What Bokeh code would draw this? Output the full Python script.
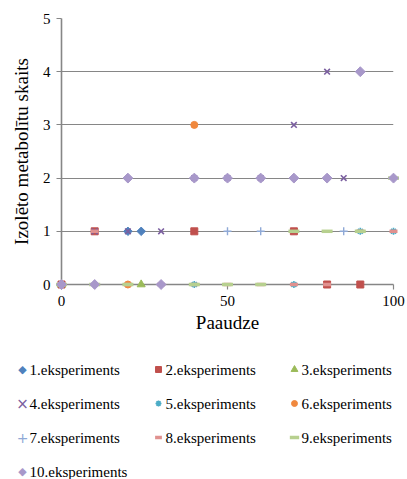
from bokeh.plotting import figure
from bokeh.models import Range1d, FixedTicker
from bokeh.core.properties import value
from bokeh.layouts import column
from bokeh.embed import file_html
from bokeh.resources import INLINE

# Data (generation, number of isolated metabolites)
names = ["1.eksperiments", "2.eksperiments", "3.eksperiments", "4.eksperiments",
         "5.eksperiments", "6.eksperiments", "7.eksperiments", "8.eksperiments",
         "9.eksperiments", "10.eksperiments"]

e1_x = [0, 20, 24]
e1_y = [0, 1, 1]
e2_x = [0, 10, 40, 70, 80, 90]
e2_y = [0, 1, 1, 1, 0, 0]
e3_x = [0, 24]
e3_y = [0, 0]
e4_x = [0, 10, 20, 30, 40, 50, 60, 70, 80, 85]
e4_y = [0, 1, 1, 1, 2, 2, 2, 3, 4, 2]
e5_x = [0, 40, 70, 90, 100]
e5_y = [0, 0, 0, 1, 1]
e6_x = [0, 20, 40]
e6_y = [0, 0, 3]
e7_x = [0, 50, 60, 85]
e7_y = [0, 1, 1, 1]
e8_x = [0, 10, 20, 30, 40, 50, 60, 70, 80, 90, 100]
e8_y = [0, 1, 0, 0, 0, 0, 0, 0, 0, 1, 1]
e9_x = [0, 10, 20, 40, 50, 60, 70, 80, 90, 100]
e9_y = [0, 0, 0, 0, 0, 0, 1, 1, 1, 2]
e10_x = [0, 10, 20, 30, 40, 50, 60, 70, 80, 90, 100]
e10_y = [0, 0, 2, 0, 2, 2, 2, 2, 2, 4, 2]

x_ticks = [0, 50, 100]
y_ticks = [0, 1, 2, 3, 4, 5]

FONT = "Liberation Serif"
GRID = "#868686"

p = figure(width=407, height=355, output_backend="svg", toolbar_location=None,
           x_range=Range1d(0, 100), y_range=Range1d(0, 5),
           min_border_left=61, min_border_right=14, min_border_top=18,
           min_border_bottom=71)
p.background_fill_color = "white"
p.border_fill_color = "white"
p.outline_line_color = None

p.xgrid.grid_line_color = None
p.ygrid.grid_line_color = GRID
p.ygrid.grid_line_width = 1.2

for ax in (p.xaxis[0], p.yaxis[0]):
    ax.axis_line_color = GRID
    ax.axis_line_width = 1.6
    ax.major_tick_line_color = GRID
    ax.major_tick_line_width = 1.2
    ax.major_tick_out = 5
    ax.major_tick_in = 0
    ax.minor_tick_line_color = None
    ax.major_label_text_font = FONT
    ax.major_label_text_font_size = "15px"
    ax.major_label_text_color = "black"
    ax.axis_label_text_font = FONT
    ax.axis_label_text_font_style = "normal"
    ax.axis_label_text_color = "black"
    ax.axis_label_text_font_size = "19px"

p.xaxis[0].ticker = FixedTicker(ticks=x_ticks)
p.yaxis[0].ticker = FixedTicker(ticks=y_ticks)
p.xaxis[0].axis_label = "Paaudze"
p.yaxis[0].axis_label = "Izolēto metabolītu skaits"
p.xaxis[0].major_label_standoff = 6
p.xaxis[0].axis_label_standoff = 3
p.yaxis[0].major_label_standoff = 6
p.yaxis[0].axis_label_standoff = 8

D = 0.785398
series = [
    (e1_x, e1_y, "square", 6, D, "#4F81BD", 1),
    (e2_x, e2_y, "square", 7, 0, "#C0504D", 1),
    (e3_x, e3_y, "triangle", 8, 0, "#9BBB59", 1),
    (e4_x, e4_y, "x", 8, 0, "#7B5FA0", 1.6),
    (e5_x, e5_y, "asterisk", 7, 0, "#4BACC6", 1.6),
    (e6_x, e6_y, "circle", 7, 0, "#F0883E", 1),
    (e7_x, e7_y, "cross", 8, 0, "#8FA9D6", 1.4),
    (e8_x, e8_y, "dash", 8, 0, "#E0918F", 3.5),
    (e9_x, e9_y, "dash", 11, 0, "#B7D08F", 3.5),
    (e10_x, e10_y, "square", 7, D, "#A898CA", 1),
]

# Legend panel below the chart: a figure whose units are pixels
LW, LH = 332, 124
lf = figure(width=407, height=LH, output_backend="svg", toolbar_location=None,
            x_range=Range1d(0, LW), y_range=Range1d(0, LH),
            x_axis_location=None, y_axis_location=None,
            min_border_left=61, min_border_right=14, min_border_top=0,
            min_border_bottom=0)
lf.grid.visible = False
lf.outline_line_color = None
lf.background_fill_color = "white"
lf.border_fill_color = "white"

COL_PITCH, ROW_PITCH = 136, 34
X0, Y0 = -39, LH - 14
# symbols for legend keys that lie left of the legend figure's frame
key_chars = {"square": ("\u25C6", "11px"), "x": ("\u00D7", "15px"),
             "cross": ("+", "14px")}

for i, ((xs, ys, mk, sz, ang, col, lw), nm) in enumerate(zip(series, names)):
    kw = dict(marker=mk, angle=ang, line_color=col, line_width=lw)
    kw["fill_color"] = None if mk in ("x", "asterisk", "cross", "dash") else col
    p.scatter(xs, ys, size=sz, level="overlay", **kw)
    c, r = i % 3, i // 3
    gx = X0 + c * COL_PITCH
    gy = Y0 - r * ROW_PITCH
    if gx >= 0:
        lf.scatter([gx], [gy], size=sz * 0.85, level="overlay", **kw)
    else:
        ch, fs = key_chars[mk]
        lf.text([gx], [gy], text=[ch], text_font=value("DejaVu Sans"),
                text_font_size=fs, text_color=col, text_baseline="middle",
                text_align="center", level="overlay")
    lf.text([gx + 7], [gy], text=[nm], text_font=value(FONT),
            text_font_size="15px", text_color="black",
            text_baseline="middle", text_align="left", level="overlay")

layout = column(p, lf, spacing=0)
open("out.html", "w").write(file_html(layout, INLINE))
